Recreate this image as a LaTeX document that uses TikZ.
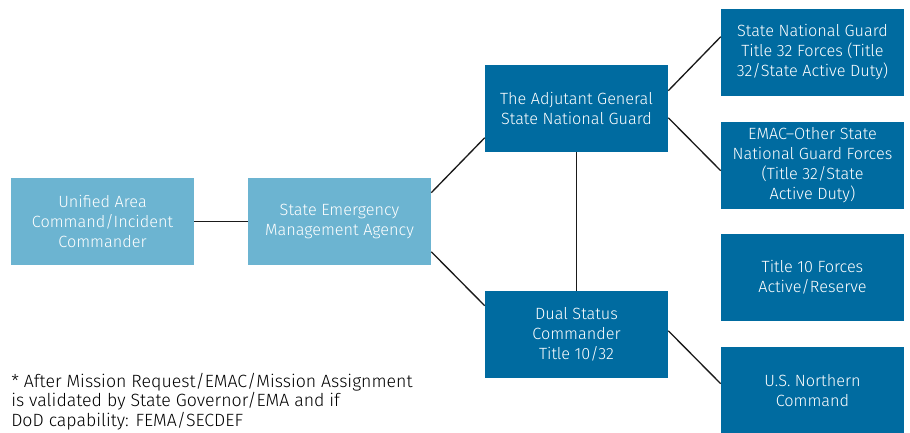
\documentclass[tikz,border=0pt]{standalone}
\usepackage{fontspec}
\setmainfont{Fira Sans}[UprightFont=* Light]
\usetikzlibrary{calc}
\definecolor{lightbox}{HTML}{6CB4D1}
\definecolor{darkbox}{HTML}{006BA0}
\definecolor{linkgray}{HTML}{1A1A1A}
\begin{document}
\begin{tikzpicture}[x=0.75pt,y=-0.75pt,
  box/.style={rectangle, inner sep=0pt, minimum width=137.25pt, minimum height=65.25pt,
    text=white, align=center, font=\fontsize{12.2}{15}\selectfont},
  lbox/.style={box, fill=lightbox},
  dbox/.style={box, fill=darkbox},
  link/.style={draw=linkgray, line width=1pt},
  note/.style={anchor=north west, align=left, inner sep=0pt, text=black,
    font=\fontsize{13.3}{14.6}\selectfont}]
\clip (0,0) rectangle (910,432);
\fill[white] (0,0) rectangle (910,432);

% command chain boxes
\node[lbox] (uac) at (102.5,221.5) {Unified Area\\Command/Incident\\Commander};
\node[lbox] (sema) at (339.5,221.5) {State Emergency\\Management Agency};
\node[dbox] (tag) at (576.5,108.5) {The Adjutant General\\State National Guard};
\node[dbox] (dsc) at (576.5,334.5) {Dual Status\\Commander\\Title 10/32};
\node[dbox] (sng) at (812.5,52.5) {State National Guard\\Title 32 Forces (Title\\32/State Active Duty)};
\node[dbox] (emac) at (812.5,165.5) {EMAC--Other State\\National Guard Forces\\(Title 32/State\\Active Duty)};
\node[dbox] (t10) at (812.5,277.5) {Title 10 Forces\\Active/Reserve};
\node[dbox] (nc) at (812.5,390.5) {U.S. Northern\\Command};

% connectors
\draw[link] (uac.east) -- (sema.west);
\draw[link] ($(sema.north east)+(0,15)$) -- ($(tag.north west)+(0,73)$);
\draw[link] ($(sema.north east)+(0,74)$) -- ($(dsc.north west)+(0,15)$);
\draw[link] (tag.south) -- (dsc.north);
\draw[link] ($(tag.north east)+(0,26)$) -- ($(sng.north west)+(0,28)$);
\draw[link] ($(tag.north east)+(0,53)$) -- ($(emac.north west)+(0,49)$);
\draw[link] ($(dsc.north east)+(0,40)$) -- ($(nc.north west)+(0,37)$);

% footnote
\node[note] (fn) at (11,373) {* After Mission Request/EMAC/Mission Assignment\\is validated by State Governor/EMA and if\\DoD capability: FEMA/SECDEF};
\end{tikzpicture}
\end{document}
